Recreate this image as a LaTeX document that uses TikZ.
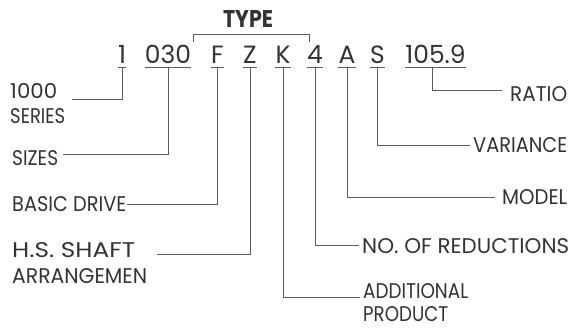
\documentclass[tikz,border=0pt]{standalone}
\usepackage{fontspec}
\setmainfont{Poppins}
\usepackage{graphicx}
\usepackage{tikz}
\usetikzlibrary{positioning}

\definecolor{txtgray}{HTML}{333333}
\definecolor{linegray}{HTML}{5A5A5A}

% 标注文字按参考宽度缩放
\newcommand{\fitlbl}[2]{\resizebox{#1pt}{15pt}{#2}}

\begin{document}
\begin{tikzpicture}[x=1pt, y=-1pt,
    code/.style={font=\fontsize{25}{25}\selectfont, text=txtgray, inner xsep=0pt, inner ysep=4pt, text depth=0pt, anchor=base},
    lbl/.style={font=\fontsize{20}{24}\selectfont, text=txtgray, inner sep=0pt, anchor=base west},
    lead/.style={draw=linegray, line width=0.9pt},
    uline/.style={draw=linegray, line width=1pt}]
    \useasboundingbox (0,0) rectangle (572,327);

    % 型号代码
    \node[code] (c1) at (122,63) {1};
    \node[code] (c030) at (168,63) {030};
    \node[code] (cF) at (217.5,63) {F};
    \node[code] (cZ) at (250,63) {Z};
    \node[code] (cK) at (283,63) {K};
    \node[code] (c4) at (315,63) {4};
    \node[code] (cA) at (347,63) {A};
    \node[code] (cS) at (377.5,63) {S};
    \node[code] (cR) at (435.5,63) {105.9};

    % 下划线
    \foreach \c in {c1,c030,cF,cZ,cK,c4,cA,cS,cR}
        \draw[uline] (\c.south west) -- (\c.south east);

    % TYPE 括号
    \node[text=txtgray, inner sep=0pt, anchor=base] (type) at (248,27) {\resizebox{50pt}{17pt}{\bfseries TYPE}};
    \draw[lead] (193,42) -- (193,34) -- (309,34) -- (309,42);

    % 左侧标注
    \node[lbl] (series1) at (10,98) {\fitlbl{47}{1000}};
    \node[lbl] (series2) at (10,123) {\fitlbl{55}{SERIES}};
    \node[lbl] (sizes) at (12,165) {\fitlbl{46}{SIZES}};
    \node[lbl] (drive) at (12,211) {\fitlbl{114}{BASIC DRIVE}};
    \node[lbl] (shaft1) at (12,257) {\fitlbl{123}{H.S. SHAFT}};
    \node[lbl] (shaft2) at (12,283) {\fitlbl{135}{ARRANGEMEN}};

    % 右侧标注
    \node[lbl] (ratio) at (510,101) {\fitlbl{57}{RATIO}};
    \node[lbl] (variance) at (473,152) {\fitlbl{94}{VARIANCE}};
    \node[lbl] (model) at (502,204) {\fitlbl{65}{MODEL}};
    \node[lbl] (reduct) at (362,253) {\fitlbl{207}{NO. OF REDUCTIONS}};
    \node[lbl] (addl) at (363,298) {\fitlbl{105}{ADDITIONAL}};
    \node[lbl] (prod) at (363,321) {\fitlbl{85}{PRODUCT}};

    % 引线端点
    \coordinate (e1) at (72,99);
    \coordinate (e2) at (63,154);
    \coordinate (e3) at (127,204);
    \coordinate (e4) at (157,254);
    \coordinate (r1) at (502,90);
    \coordinate (r2) at (470,145);
    \coordinate (r3) at (495,197);
    \coordinate (r4) at (359,245);
    \coordinate (r5) at (360,297);

    % 引线
    \draw[lead] (c1.south) |- (e1);
    \draw[lead] (c030.south) |- (e2);
    \draw[lead] (cF.south) |- (e3);
    \draw[lead] (cZ.south) |- (e4);
    \draw[lead] (cK.south) |- (r5);
    \draw[lead] (c4.south) |- (r4);
    \draw[lead] (cA.south) |- (r3);
    \draw[lead] (cS.south) |- (r2);
    \draw[lead] ([xshift=-3.5pt]cR.south) |- (r1);
\end{tikzpicture}
\end{document}
